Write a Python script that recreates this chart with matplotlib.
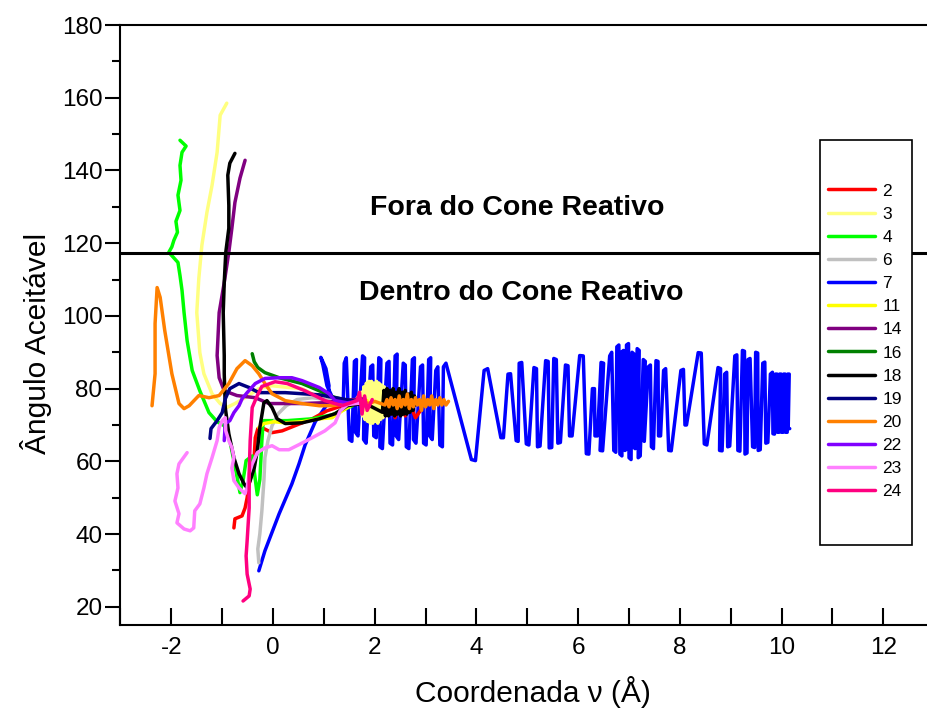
import numpy as np
import matplotlib
matplotlib.use('Agg')
import matplotlib.pyplot as plt
from matplotlib.patches import Rectangle

plt.rcParams['font.family'] = ['Liberation Sans', 'DejaVu Sans']
plt.rcParams['axes.unicode_minus'] = False

# trajectory labels and colours (legend order)
labels = ['2', '3', '4', '6', '7', '11', '14', '16', '18', '19', '20', '22', '23', '24']
colors = ['#ff0000', '#ffff80', '#00ff00', '#c0c0c0', '#0000ff', '#ffff00', '#800080',
          '#008000', '#000000', '#000080', '#ff8000', '#8000ff', '#ff80ff', '#ff0080']

# 2
x2 = [-0.77, -0.75, -0.61, -0.55, -0.51, -0.47, -0.41, -0.37, -0.35, -0.30, -0.18, -0.02, 0.18,
      0.43, 0.77, 1.06, 1.36, 1.7, 2.0, 2.2, 2.3, 2.4, 2.5, 2.6, 2.7, 2.8, 2.9]
y2 = [41.7, 44.2, 45.0, 47.2, 50.0, 53.8, 57.4, 61.5, 66.5, 69.0, 69.0, 67.9, 68.4,
      69.8, 71.7, 73.9, 75.3, 76.0, 74.5, 72.5, 77.0, 72.0, 76.5, 72.5, 75.5, 72.0, 74.0]
# 3
x3 = [-0.91, -1.04, -1.10, -1.20, -1.30, -1.40, -1.46, -1.50, -1.44, -1.36, -1.20, -1.04, -0.91,
      -0.75, -0.55, -0.28, -0.02, 0.31, 0.57, 0.96, 1.22, 1.56, 1.74, 1.76, 1.785, 1.81, 1.835,
      1.86, 1.885, 1.91, 1.935, 1.96, 1.985, 2.01, 2.035, 2.06, 2.085, 2.11, 2.135, 2.16, 2.185,
      2.21, 2.235, 2.26, 2.30]
y3 = [158.5, 155.2, 145.0, 135.9, 128.5, 119.4, 110.3, 100.9, 89.9, 84.1, 78.6, 75.9, 74.8,
      75.9, 77.5, 80.0, 80.8, 80.3, 80.0, 77.2, 76.1, 75.6, 79.0, 72.5, 80.5, 71.5, 81.5,
      71.0, 82.0, 70.5, 82.0, 70.5, 81.5, 71.0, 82.0, 70.5, 81.5, 71.5, 81.0, 72.0, 80.5,
      73.0, 79.5, 74.0, 77.0]
# 4
x4 = [-1.83, -1.71, -1.79, -1.83, -1.81, -1.87, -1.83, -1.91, -1.88, -1.95, -1.99, -2.05, -1.87,
      -1.83, -1.79, -1.75, -1.69, -1.59, -1.44, -1.26, -1.10, -0.96, -0.85, -0.73, -0.65, -0.59,
      -0.53, -0.41, -0.31, -0.26, -0.22, -0.20, -0.18, -0.02, 0.28, 0.77, 1.16, 1.56]
y4 = [148.3, 146.7, 145.0, 141.4, 137.3, 133.2, 129.0, 126.0, 123.0, 120.8, 119.0, 117.5, 114.7,
      111.1, 107.0, 100.9, 93.2, 85.0, 79.4, 73.4, 70.9, 69.8, 65.7, 57.4, 51.4, 54.7,
      60.2, 61.5, 50.8, 55.0, 65.7, 69.8, 71.2, 71.2, 71.2, 71.7, 72.8, 75.3]
# 6
x6 = [-0.28, -0.30, -0.26, -0.22, -0.18, -0.16, -0.10, -0.02, 0.10, 0.26, 0.47, 0.77, 1.06, 1.36, 1.65]
y6 = [32.1, 35.9, 40.1, 46.4, 54.7, 61.0, 65.7, 69.8, 73.1, 75.3, 77.0, 77.5, 77.0, 76.1, 75.9]
# 7
x7 = [-0.28, -0.16, 0.12, 0.37, 0.51, 0.63, 0.83, 1.06, 1.10, 1.04, 0.94, 0.98, 1.06, 1.18, 1.38,
      1.40, 1.44, 1.50, 1.55, 1.60, 1.64, 1.62, 1.67, 1.76, 1.80, 1.78, 1.83, 1.92, 1.96,
      1.98, 2.03, 2.08, 2.12, 2.10, 2.15, 2.24, 2.28, 2.30, 2.35, 2.40, 2.44, 2.42, 2.47,
      2.56, 2.60, 2.62, 2.67, 2.74, 2.78, 2.76, 2.81, 2.90, 2.94, 2.96, 3.01, 3.06, 3.10,
      3.08, 3.13, 3.20, 3.24, 3.28, 3.33, 3.35, 3.40,
      3.90, 3.98, 4.15, 4.22, 4.48, 4.53, 4.62, 4.67, 4.78, 4.82, 4.84, 4.89, 4.98, 5.03,
      5.13, 5.18, 5.20, 5.25, 5.36, 5.41, 5.43, 5.48, 5.52, 5.57, 5.60, 5.65, 5.75, 5.80,
      5.83, 5.88, 6.03, 6.10, 6.16, 6.21, 6.28, 6.32, 6.33, 6.38, 6.45, 6.50, 6.43, 6.48,
      6.62, 6.66, 6.70, 6.74, 6.76, 6.80, 6.82, 6.86, 6.85, 6.89, 6.92, 6.96, 6.95, 6.99,
      7.00, 7.04, 7.06, 7.10, 7.08, 7.12, 7.16, 7.20, 7.18, 7.22, 7.28, 7.32, 7.26, 7.30,
      7.38, 7.42, 7.44, 7.48, 7.53, 7.57, 7.58, 7.62, 7.68, 7.72, 7.78, 7.83,
      8.02, 8.07, 8.10, 8.13, 8.36, 8.42, 8.48, 8.53, 8.75, 8.80, 8.78, 8.83, 8.88, 8.92,
      8.94, 8.98, 9.08, 9.12, 9.14, 9.18, 9.23, 9.27, 9.28, 9.32, 9.34, 9.38, 9.43, 9.47,
      9.49, 9.53, 9.54, 9.58, 9.63, 9.67, 9.69, 9.73, 9.78, 9.82, 9.83, 9.86, 9.88, 9.91,
      9.92, 9.95, 9.96, 9.99, 10.00, 10.03, 10.04, 10.07, 10.08, 10.11, 10.12, 10.15, 10.13, 10.16]
y7 = [29.9, 35.4, 45.6, 53.8, 59.3, 64.5, 70.9, 75.6, 80.8, 85.5, 88.6, 86.5, 80.8, 77.2, 76.1,
      87.0, 88.5, 66.0, 65.5, 87.5, 88.0, 68.0, 67.0, 89.0, 88.5, 66.0, 65.0, 86.0, 86.5,
      67.0, 66.5, 88.5, 88.0, 64.0, 63.5, 87.0, 87.5, 65.0, 64.5, 89.0, 89.5, 67.0, 66.0,
      87.0, 86.5, 64.0, 63.5, 88.0, 88.5, 66.0, 65.0, 86.0, 86.5, 65.0, 64.5, 88.0, 88.5,
      67.0, 66.0, 85.0, 86.0, 64.5, 64.0, 86.0, 87.0,
      60.5, 60.2, 85.0, 85.5, 66.5, 66.5, 84.0, 84.1, 65.7, 65.5, 87.0, 87.2, 64.8, 64.5,
      85.8, 85.5, 64.0, 64.2, 87.7, 87.5, 63.7, 63.8, 88.3, 88.0, 65.0, 65.2, 86.5, 86.3,
      67.0, 67.0, 89.1, 89.0, 62.1, 62.0, 80.0, 80.0, 67.0, 67.0, 87.2, 87.0, 63.0, 62.9,
      89.0, 90.0, 63.0, 62.5, 91.5, 92.0, 62.0, 61.5, 90.0, 90.5, 63.0, 63.5, 92.0, 92.4,
      61.0, 60.5, 90.0, 89.5, 64.0, 63.5, 91.0, 90.5, 61.0, 61.5, 88.0, 87.5, 66.0, 65.5,
      86.0, 86.5, 64.0, 63.5, 87.7, 87.5, 67.0, 67.0, 85.0, 85.5, 63.0, 62.9,
      85.0, 85.3, 70.0, 70.0, 89.9, 89.8, 64.8, 64.5, 85.8, 85.5, 63.0, 62.9, 84.0, 84.5,
      64.0, 64.2, 89.0, 89.3, 63.0, 62.8, 90.5, 90.3, 62.0, 62.3, 88.0, 88.3, 64.0, 63.8,
      90.0, 89.8, 63.0, 63.2, 87.0, 87.3, 65.0, 65.2, 84.0, 84.5, 67.6, 67.5, 84.0, 84.0,
      68.0, 68.0, 84.0, 84.0, 68.0, 68.0, 84.0, 84.0, 68.0, 68.0, 84.0, 84.0, 69.0, 69.0]
# 11
x11 = [-0.28, -0.18, 0.02, 0.24, 0.57, 0.91, 1.16, 1.36, 1.56, 1.85]
y11 = [69.3, 70.4, 70.9, 70.6, 70.9, 71.7, 72.0, 73.9, 75.6, 76.7]
# 14
x14 = [-0.55, -0.65, -0.75, -0.81, -0.87, -0.96, -1.06, -1.10, -1.06, -0.96, -0.71, -0.35, -0.08,
       0.18, 0.57, 0.96, 1.36, 1.75]
y14 = [142.8, 137.9, 131.2, 124.1, 117.5, 109.2, 100.9, 89.1, 83.0, 79.4, 78.1, 77.5, 75.9,
       75.9, 75.9, 76.1, 76.7, 77.2]
# 16
x16 = [-0.41, -0.37, -0.30, -0.16, 0.12, 0.57, 0.91, 1.16, 1.46, 1.75]
y16 = [89.6, 87.4, 85.8, 84.4, 83.0, 81.4, 79.4, 77.8, 76.7, 76.1]
# 18
x18 = [-0.75, -0.85, -0.89, -0.87, -0.87, -0.93, -0.96, -0.98, -0.96, -0.96, -0.94, -0.87, -0.77,
       -0.67, -0.57, -0.51, -0.45, -0.37, -0.31, -0.26, -0.18, -0.12, -0.02, 0.08, 0.24, 0.57,
       0.91, 1.22, 1.46, 1.8, 2.15, 2.18, 2.21, 2.24, 2.27, 2.30, 2.33, 2.36, 2.39, 2.42, 2.45,
       2.48, 2.51, 2.54, 2.57, 2.60, 2.63, 2.66, 2.69, 2.72, 2.75, 2.78, 2.80]
y18 = [144.7, 142.0, 138.7, 130.4, 124.1, 117.5, 109.2, 100.9, 89.1, 84.1, 74.8, 67.6, 61.0,
       56.6, 53.8, 52.7, 54.7, 58.2, 62.9, 69.3, 76.1, 76.7, 74.8, 71.7, 70.4, 70.6,
       71.7, 73.1, 75.3, 76.0, 73.5, 79.5, 72.5, 80.0, 72.5, 79.5, 73.0, 80.0, 72.5, 79.0, 73.0,
       80.0, 72.5, 79.0, 73.0, 79.5, 73.0, 78.5, 73.5, 79.0, 74.0, 78.0, 75.5]
# 19
x19 = [-1.24, -1.22, -1.10, -1.00, -0.94, -0.85, -0.67, -0.47, -0.28, -0.02, 0.24, 0.57, 0.91,
       1.22, 1.56]
y19 = [66.3, 69.0, 71.2, 73.4, 77.2, 80.0, 81.4, 80.3, 78.9, 78.9, 78.9, 78.6, 78.3, 77.5, 76.7]
# 20
x20 = [-2.38, -2.32, -2.32, -2.28, -2.22, -2.13, -1.99, -1.85, -1.75, -1.65, -1.46, -1.26, -1.06,
       -0.87, -0.71, -0.55, -0.41, -0.28, -0.16, -0.02, 0.24, 0.57, 0.91, 1.16, 1.56, 1.9, 2.0,
       2.20, 2.24, 2.28, 2.32, 2.36, 2.40, 2.44, 2.48, 2.52, 2.56, 2.60, 2.64, 2.68, 2.72, 2.76,
       2.80, 2.84, 2.88, 2.92, 2.96, 3.00, 3.04, 3.08, 3.12, 3.16, 3.20, 3.24, 3.28, 3.32, 3.36,
       3.40, 3.45]
y20 = [75.3, 84.1, 97.9, 107.8, 105.1, 96.0, 84.1, 75.9, 74.5, 75.3, 78.1, 77.5, 78.1,
       81.4, 85.5, 87.7, 86.3, 84.1, 81.4, 78.6, 76.7, 75.9, 75.3, 75.3, 76.1, 76.0, 76.5,
       75.5, 77.0, 75.0, 77.5, 75.5, 77.0, 74.5, 78.0, 75.0, 77.0, 75.5, 78.5, 74.5, 77.0, 75.0,
       77.5, 75.5, 77.0, 74.0, 78.0, 75.0, 77.0, 75.5, 78.0, 74.5, 77.0, 75.5, 77.5, 75.5, 77.0,
       75.5, 76.5]
# 22
x22 = [-0.96, -0.94, -0.85, -0.77, -0.67, -0.61, -0.51, -0.35, -0.16, 0.12, 0.37, 0.57, 0.91,
       1.10, 1.22, 1.46, 1.75]
y22 = [65.7, 70.4, 71.2, 73.4, 75.3, 77.2, 78.9, 81.4, 82.8, 83.0, 83.0, 82.2, 80.3,
       78.6, 76.7, 76.1, 76.7]
# 23
x23 = [-1.69, -1.85, -1.89, -1.87, -1.93, -1.85, -1.89, -1.75, -1.63, -1.56, -1.54, -1.44, -1.36,
       -1.30, -1.20, -1.10, -1.06, -1.00, -0.94, -0.93, -0.87, -0.81, -0.77, -0.81, -0.77, -0.67,
       -0.55, -0.51, -0.47, -0.41, -0.31, -0.16, -0.02, 0.12, 0.31, 0.51, 0.77, 1.02, 1.22, 1.32,
       1.46, 1.75]
y23 = [62.4, 59.3, 56.6, 52.7, 49.1, 45.6, 43.1, 41.4, 40.9, 41.7, 46.4, 48.3, 52.7,
       56.6, 61.0, 65.7, 69.3, 71.2, 72.0, 68.4, 65.7, 63.8, 61.0, 58.2, 54.7, 52.7,
       51.1, 52.7, 56.6, 59.3, 62.4, 63.7, 64.3, 63.2, 63.2, 64.6, 66.5, 68.4, 70.6, 73.9,
       75.6, 76.1]
# 24
x24 = [-0.59, -0.47, -0.45, -0.51, -0.53, -0.51, -0.47, -0.47, -0.45, -0.41, -0.31, -0.22, 0.04,
       0.28, 0.63, 1.02, 1.36, 1.65, 1.70, 1.75, 1.80, 1.85, 1.95]
y24 = [21.6, 23.0, 24.9, 29.0, 34.0, 38.1, 47.2, 56.6, 65.7, 74.8, 78.1, 80.6, 81.9,
       81.4, 79.4, 76.7, 75.3, 76.7, 79.0, 73.0, 78.0, 74.0, 77.0]

xs = [x2, x3, x4, x6, x7, x11, x14, x16, x18, x19, x20, x22, x23, x24]
ys = [y2, y3, y4, y6, y7, y11, y14, y16, y18, y19, y20, y22, y23, y24]

cone_limit = 117.3

fig = plt.figure(figsize=(9.28, 7.11), dpi=100)
ax = fig.add_axes([120.5 / 928, 86 / 711, 864.5 / 928, 600 / 711])

for lab, c, x, y in zip(labels, colors, xs, ys):
    z = 1.5 if lab == '7' else 2
    ax.plot(x, y, color=c, lw=2.5, label=lab, zorder=z,
            solid_joinstyle='round', solid_capstyle='round')

ax.axhline(cone_limit, color='black', lw=2.2, zorder=3)

ax.text(4.80, 129.6, 'Fora do Cone Reativo', fontsize=20.5, fontweight='bold',
        ha='center', va='center')
ax.text(4.89, 106.4, 'Dentro do Cone Reativo', fontsize=20.5, fontweight='bold',
        ha='center', va='center')

ax.set_xlim(-3, 14)
ax.set_ylim(15, 180)
ax.set_xticks(np.arange(-2, 14, 2))
ax.set_xticks(np.arange(-3, 14, 1), minor=True)
ax.set_yticks(np.arange(20, 181, 20))
ax.set_yticks(np.arange(30, 180, 20), minor=True)
ax.tick_params(axis='x', which='both', direction='in', length=12, width=1.5, pad=9)
ax.tick_params(axis='y', which='major', direction='out', length=11, width=1.5, pad=2)
ax.tick_params(axis='y', which='minor', direction='out', length=6, width=1.5)
for lbl in ax.get_xticklabels() + ax.get_yticklabels():
    lbl.set_family(['Liberation Sans Narrow', 'Liberation Sans'])
    lbl.set_fontsize(17.5)
for s in ax.spines.values():
    s.set_linewidth(1.5)

ax.set_xlabel('Coordenada ν (Å)', fontsize=21.5)
ax.xaxis.set_label_coords(0.477, -0.085)
ax.set_ylabel('Ângulo Aceitável', fontsize=21.5)
ax.yaxis.set_label_coords(-0.079, 0.47)

# legend box
ax.add_patch(Rectangle((0.809, 0.133), 0.1065, 0.675, transform=ax.transAxes,
                       facecolor='white', edgecolor='black', lw=1.2, zorder=4))
ax.legend(loc='upper left', bbox_to_anchor=(0.818, 0.736), frameon=False,
          fontsize=12.5, handlelength=2.75, handletextpad=0.4, labelspacing=0.46,
          borderpad=0, borderaxespad=0).set_zorder(5)

fig.savefig('out.png', dpi=100)
